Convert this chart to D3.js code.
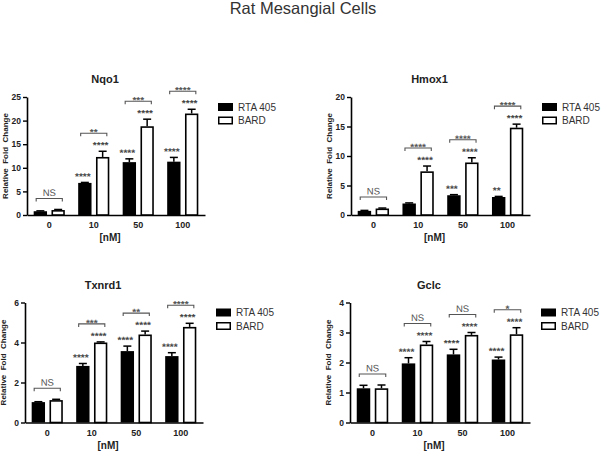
<!DOCTYPE html>
<html><head><meta charset="utf-8">
<script src="https://cdn.jsdelivr.net/npm/d3@7"></script>
<style>
html,body{margin:0;padding:0;background:#fff;}
svg{display:block;font-family:"Liberation Sans",Arial,sans-serif;}
</style></head>
<body><svg id="chart" width="601" height="452"></svg>
<script>
// ---- data ----
const mainTitle = "Rat Mesangial Cells";
const genes = ["Nqo1", "Hmox1", "Txnrd1", "Gclc"];
const concentrations = ["0", "10", "50", "100"];
const seriesNames = ["RTA 405", "BARD"];
const xAxisLabel = "[nM]";
const yAxisLabel = "Relative  Fold  Change";

const nqo1RTA = [0.8, 6.8, 11.2, 11.3];
const nqo1RTAErr = [0.08, 0.1, 0.7, 0.9];
const nqo1BARD = [1.05, 12.3, 18.8, 21.5];
const nqo1BARDErr = [0.12, 1.2, 1.5, 0.9];
const nqo1Ticks = [0, 5, 10, 15, 20, 25];
const nqo1SigRTA = ["", "****", "****", "****"];
const nqo1SigBARD = ["", "****", "****", "****"];
const nqo1SigPair = ["NS", "**", "***", "****"];

const hmox1RTA = [0.7, 1.95, 3.35, 3.05];
const hmox1RTAErr = [0.08, 0.1, 0.1, 0.1];
const hmox1BARD = [1.1, 7.4, 8.9, 14.8];
const hmox1BARDErr = [0.08, 0.9, 0.8, 0.6];
const hmox1Ticks = [0, 5, 10, 15, 20];
const hmox1SigRTA = ["", "", "***", "**"];
const hmox1SigBARD = ["", "****", "****", "****"];
const hmox1SigPair = ["NS", "****", "****", "****"];

const txnrd1RTA = [1.02, 2.83, 3.57, 3.32];
const txnrd1RTAErr = [0.02, 0.12, 0.25, 0.17];
const txnrd1BARD = [1.12, 4.0, 4.4, 4.78];
const txnrd1BARDErr = [0.04, 0.03, 0.17, 0.18];
const txnrd1Ticks = [0, 2, 4, 6];
const txnrd1SigRTA = ["", "****", "****", "****"];
const txnrd1SigBARD = ["", "****", "****", "****"];
const txnrd1SigPair = ["NS", "***", "**", "****"];

const gclcRTA = [1.14, 1.97, 2.27, 2.1];
const gclcRTAErr = [0.1, 0.19, 0.17, 0.08];
const gclcBARD = [1.14, 2.6, 2.92, 2.94];
const gclcBARDErr = [0.11, 0.1, 0.08, 0.22];
const gclcTicks = [0, 1, 2, 3, 4];
const gclcSigRTA = ["", "****", "****", "****"];
const gclcSigBARD = ["", "****", "****", "****"];
const gclcSigPair = ["NS", "NS", "NS", "*"];

// ---- build panel tables from arrays ----
const panelData = [
  {gene: genes[0], rta: nqo1RTA, rtaErr: nqo1RTAErr, bard: nqo1BARD, bardErr: nqo1BARDErr, ticks: nqo1Ticks, sigR: nqo1SigRTA, sigB: nqo1SigBARD, sigP: nqo1SigPair},
  {gene: genes[1], rta: hmox1RTA, rtaErr: hmox1RTAErr, bard: hmox1BARD, bardErr: hmox1BARDErr, ticks: hmox1Ticks, sigR: hmox1SigRTA, sigB: hmox1SigBARD, sigP: hmox1SigPair},
  {gene: genes[2], rta: txnrd1RTA, rtaErr: txnrd1RTAErr, bard: txnrd1BARD, bardErr: txnrd1BARDErr, ticks: txnrd1Ticks, sigR: txnrd1SigRTA, sigB: txnrd1SigBARD, sigP: txnrd1SigPair},
  {gene: genes[3], rta: gclcRTA, rtaErr: gclcRTAErr, bard: gclcBARD, bardErr: gclcBARDErr, ticks: gclcTicks, sigR: gclcSigRTA, sigB: gclcSigBARD, sigP: gclcSigPair}
];

// layout (positions only)
const layout = [
  {x: 27, y: 97, w: 178, h: 118},
  {x: 351, y: 97, w: 179, h: 118},
  {x: 25, y: 302.5, w: 178, h: 120},
  {x: 350, y: 302.5, w: 180, h: 120}
];

const svg = d3.select("#chart");
const textColor = "#222";
const sigColor = "#444";

svg.append("text")
  .attr("x", 303).attr("y", 14)
  .attr("text-anchor", "middle")
  .attr("font-size", 16.5)
  .attr("fill", "#333")
  .text(mainTitle);

panelData.forEach((p, i) => {
  const L = layout[i];
  const g = svg.append("g").attr("transform", `translate(${L.x},${L.y})`);

  const y = d3.scaleLinear().domain([0, d3.max(p.ticks)]).range([L.h, 0]);
  const x0 = d3.scaleBand().domain(concentrations).range([0, L.w]).paddingInner(0.3).paddingOuter(0.15);
  const x1 = d3.scaleBand().domain(seriesNames).range([0, x0.bandwidth()]).paddingInner(0.25);

  // title
  g.append("text")
    .attr("x", L.w / 2 - 11).attr("y", -14)
    .attr("text-anchor", "middle")
    .attr("font-size", 11).attr("font-weight", "bold")
    .attr("fill", textColor)
    .text(p.gene);

  // y axis
  const yAx = g.append("g")
    .call(d3.axisLeft(y).tickValues(p.ticks).tickFormat(d3.format("d")).tickSize(4).tickSizeOuter(0).tickPadding(2));
  yAx.select(".domain").attr("stroke-width", 1.6);
  yAx.selectAll(".tick line").attr("stroke-width", 1.4);
  yAx.selectAll(".tick text").attr("font-size", 8.5).attr("font-weight", "bold")
    .attr("fill", textColor).attr("font-family", null);

  // x axis
  const xAx = g.append("g").attr("transform", `translate(0,${L.h})`)
    .call(d3.axisBottom(x0).tickSize(0).tickSizeOuter(0).tickPadding(7));
  xAx.select(".domain").attr("stroke-width", 1.6);
  xAx.selectAll(".tick text").attr("font-size", 9).attr("font-weight", "bold")
    .attr("fill", textColor).attr("font-family", null);

  // axis labels
  g.append("text")
    .attr("transform", `translate(${-19},${L.h / 2}) rotate(-90)`)
    .attr("text-anchor", "middle")
    .attr("font-size", 8).attr("font-weight", "bold")
    .attr("fill", textColor)
    .style("white-space", "pre")
    .text(yAxisLabel);
  g.append("text")
    .attr("x", L.w / 2 - 6).attr("y", L.h + 26)
    .attr("text-anchor", "middle")
    .attr("font-size", 10).attr("font-weight", "bold")
    .attr("fill", textColor)
    .text(xAxisLabel);

  const rows = concentrations.map((c, j) => ({
    c,
    bars: [
      {s: seriesNames[0], v: p.rta[j], e: p.rtaErr[j], sig: p.sigR[j]},
      {s: seriesNames[1], v: p.bard[j], e: p.bardErr[j], sig: p.sigB[j]}
    ],
    pair: p.sigP[j]
  }));

  const grp = g.selectAll(".grp").data(rows).join("g")
    .attr("transform", d => `translate(${x0(d.c)},0)`);

  // error bars (upward only)
  grp.each(function (d) {
    const gg = d3.select(this);
    d.bars.forEach(b => {
      const cx = x1(b.s) + x1.bandwidth() / 2;
      gg.append("line")
        .attr("x1", cx).attr("x2", cx)
        .attr("y1", y(b.v)).attr("y2", y(b.v + b.e))
        .attr("stroke", "#000").attr("stroke-width", 1.5);
      gg.append("line")
        .attr("x1", cx - 4).attr("x2", cx + 4)
        .attr("y1", y(b.v + b.e)).attr("y2", y(b.v + b.e))
        .attr("stroke", "#000").attr("stroke-width", 1.5);
    });
  });

  // bars
  grp.selectAll("rect").data(d => d.bars).join("rect")
    .attr("x", b => x1(b.s) + (b.s === seriesNames[1] ? 0.8 : 0))
    .attr("width", b => x1.bandwidth() - (b.s === seriesNames[1] ? 1.6 : 0))
    .attr("y", b => y(b.v) + (b.s === seriesNames[1] ? 0.8 : 0))
    .attr("height", b => L.h - y(b.v) - (b.s === seriesNames[1] ? 0.8 : 0))
    .attr("fill", b => b.s === seriesNames[0] ? "#000" : "#fff")
    .attr("stroke", "#000")
    .attr("stroke-width", b => b.s === seriesNames[1] ? 1.6 : 0);

  // per-bar significance
  grp.selectAll(".sig").data(d => d.bars.filter(b => b.sig)).join("text")
    .attr("transform", b => `translate(${x1(b.s) + x1.bandwidth() / 2 - 2},${y(b.v + b.e) - 2.5}) rotate(0.05)`)
    .attr("text-anchor", "middle")
    .attr("font-size", 10)
    .attr("font-weight", "bold")
    .attr("fill", sigColor)
    .text(b => b.sig);

  // pair brackets
  grp.each(function (d) {
    const gg = d3.select(this);
    const hasLabels = d.bars.some(b => b.sig);
    const by = d3.min(d.bars, b => y(b.v + b.e)) - (hasLabels ? 18 : 11);
    const xa = x1(seriesNames[0]) + 2.5;
    const xb = x1(seriesNames[1]) + x1.bandwidth() - 2.5;
    gg.append("path")
      .attr("d", `M${xa},${by + 3}V${by}H${xb}V${by + 3}`)
      .attr("fill", "none").attr("stroke", "#555").attr("stroke-width", 1.1);
    const isNS = d.pair === "NS";
    gg.append("text")
      .attr("transform", `translate(${(xa + xb) / 2},${isNS ? by - 2.5 : by + 2.5}) rotate(0.05)`)
      .attr("text-anchor", "middle")
      .attr("font-size", isNS ? 9.5 : 10)
      .attr("font-weight", isNS ? "normal" : "bold")
      .attr("fill", "#555")
      .text(d.pair);
  });

  // legend
  const lg = g.append("g").attr("transform", `translate(191,6)`);
  seriesNames.forEach((s, k) => {
    const row = lg.append("g").attr("transform", `translate(0,${k * 13.5})`);
    row.append("rect")
      .attr("x", k === 1 ? 0.75 : 0).attr("y", k === 1 ? 0.75 : 0)
      .attr("width", k === 1 ? 13.5 : 15).attr("height", k === 1 ? 6.5 : 8)
      .attr("fill", k === 0 ? "#000" : "#fff")
      .attr("stroke", "#000").attr("stroke-width", k === 1 ? 1.5 : 0);
    row.append("text")
      .attr("x", 20).attr("y", 7.5)
      .attr("font-size", 10)
      .attr("fill", "#333")
      .text(s);
  });
});
</script></body></html>
